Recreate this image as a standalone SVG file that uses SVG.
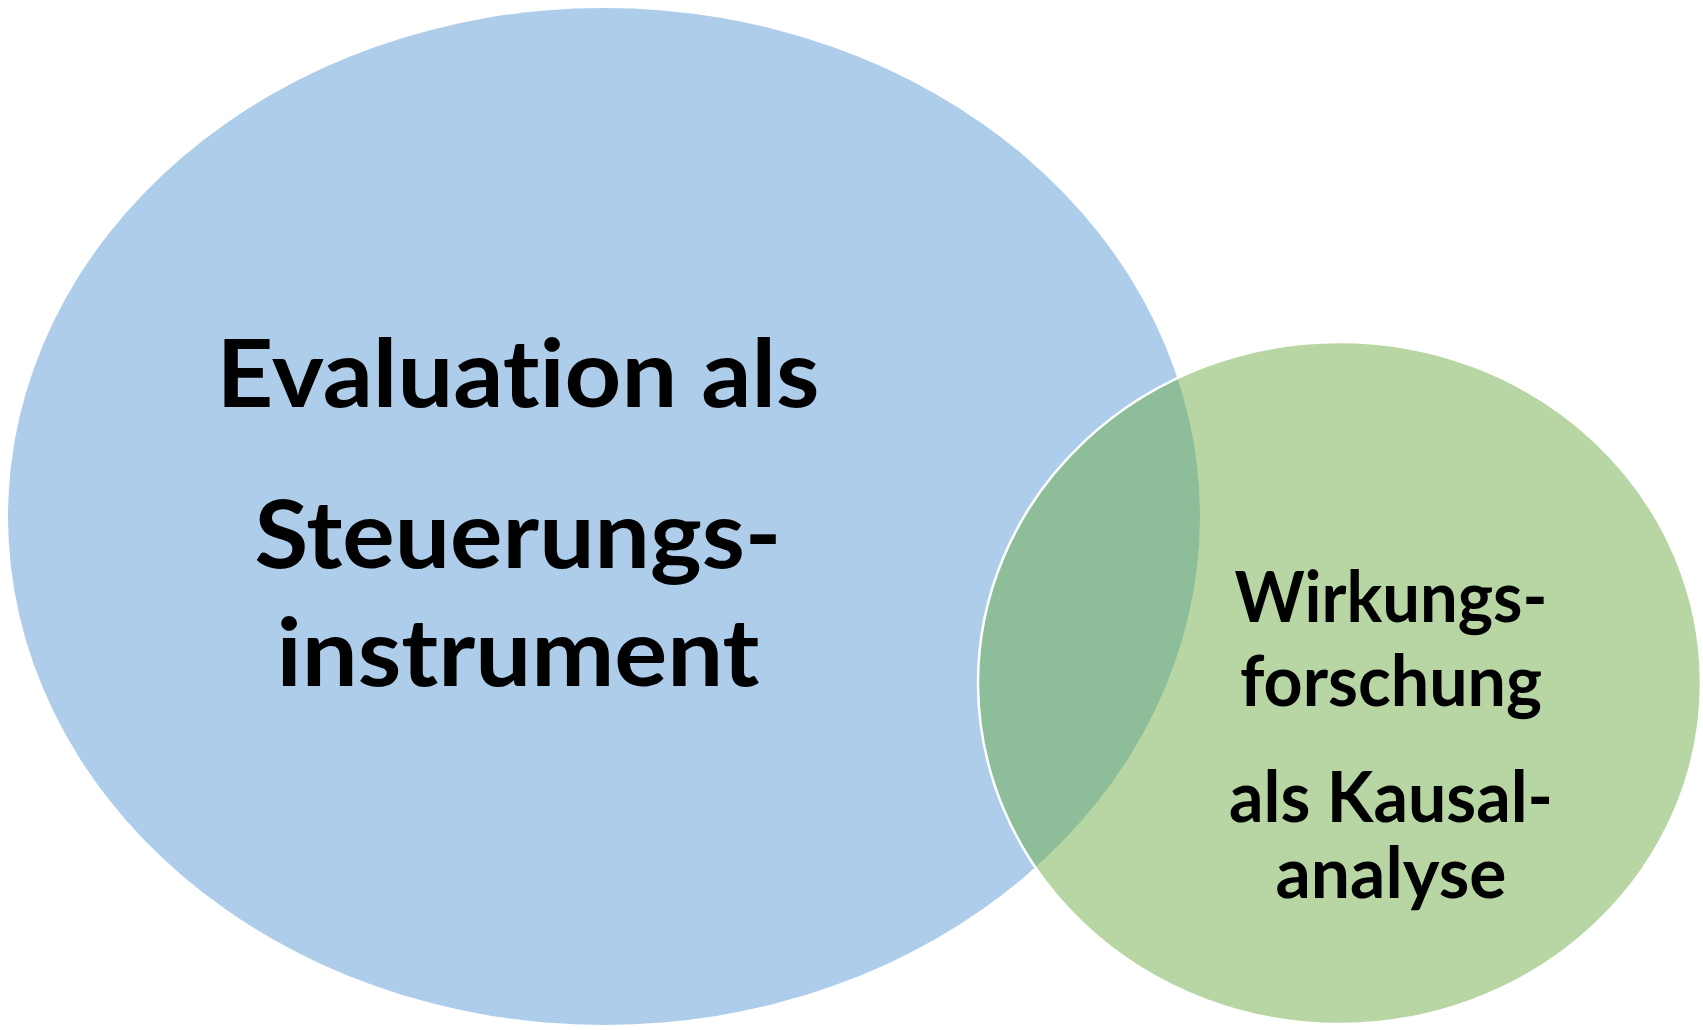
<svg xmlns="http://www.w3.org/2000/svg" width="1703" height="1030" viewBox="0 0 1703 1030">
<style>
.t{font-family:Lato,"Liberation Sans",sans-serif;font-weight:700;fill:#000;text-anchor:middle;font-variant-ligatures:none;font-feature-settings:"liga" 0,"clig" 0}
.big{font-size:93px}
.small{font-size:70px}
</style>
<rect width="1703" height="1030" fill="#fff"/>
<g id="node-steuerung">
<ellipse cx="604" cy="516.5" rx="596" ry="508.5" fill="#5B9BD5" fill-opacity="0.5"/>
</g>
<g id="node-wirkung">
<ellipse cx="1339.5" cy="683" rx="361.5" ry="341" fill="#70AD47" fill-opacity="0.5" stroke="#fff" stroke-width="2.5"/>
</g>
<g id="labels-steuerung">
<text class="t big" x="518" y="407" textLength="603" lengthAdjust="spacingAndGlyphs">Evaluation als</text>
<text class="t big" x="518" y="568" textLength="527" lengthAdjust="spacingAndGlyphs">Steuerungs-</text>
<text class="t big" x="518" y="686" textLength="483" lengthAdjust="spacingAndGlyphs">instrument</text>
</g>
<g id="labels-wirkung">
<text class="t small" x="1391" y="622" textLength="313" lengthAdjust="spacingAndGlyphs">Wirkungs-</text>
<text class="t small" x="1391" y="706" textLength="302" lengthAdjust="spacingAndGlyphs">forschung</text>
<text class="t small" x="1391" y="822" textLength="324" lengthAdjust="spacingAndGlyphs">als Kausal-</text>
<text class="t small" x="1391" y="898" textLength="231" lengthAdjust="spacingAndGlyphs">analyse</text>
</g>
<g id="connectors"></g>
</svg>
